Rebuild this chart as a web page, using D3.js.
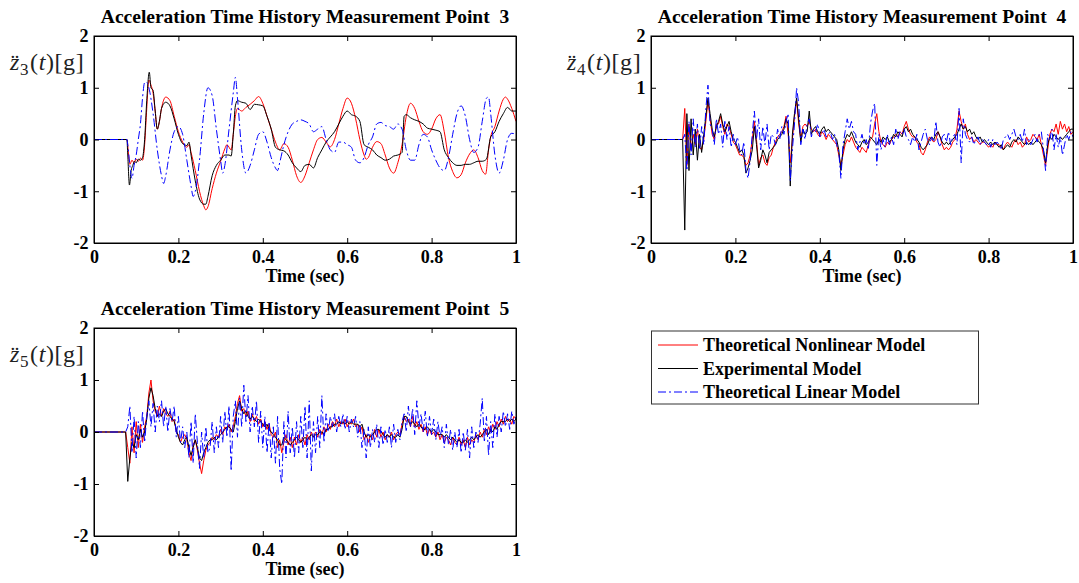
<!DOCTYPE html>
<html>
<head>
<meta charset="UTF-8">
<title>Acceleration Time History</title>
<script src="https://d3js.org/d3.v7.min.js"></script>
<style>
  body { margin: 0; background: #fff; }
  text { font-family: "Liberation Serif", "Times New Roman", serif; }
  .title { font-size: 19.5px; font-weight: bold; white-space: pre; }
  .xlabel { font-size: 18px; font-weight: bold; }
  .ylabel { font-size: 24px; fill: #222; letter-spacing: 0.6px; }
  .legend-text { font-size: 18px; font-weight: bold; }
</style>
</head>
<body>
<div id="chart"></div>
<script>
const width = 1079, height = 583;

const xTicks = [0, 0.2, 0.4, 0.6, 0.8, 1];
const xTickLabels = ["0", "0.2", "0.4", "0.6", "0.8", "1"];
const yTicks = [-2, -1, 0, 1, 2];
const yTickLabels = ["-2", "-1", "0", "1", "2"];
const seriesNames = ["Theoretical Nonlinear Model", "Experimental Model", "Theoretical Linear Model"];

// point 3 : [time, value] pairs
const point3Nonlinear = [[0,0],[0.078,0],[0.082,-0.3],[0.085,-0.48],[0.09,-0.4],[0.095,-0.45],[0.1,-0.38],[0.105,-0.42],[0.11,-0.36],[0.115,-0.4],[0.12,-0.1],[0.125,0.6],[0.13,1.15],[0.135,1.05],[0.14,0.9],[0.145,0.55],[0.15,0.2],[0.155,0.35],[0.16,0.6],[0.17,0.82],[0.18,0.75],[0.19,0.45],[0.2,0.15],[0.21,-0.05],[0.215,-0.12],[0.22,-0.15],[0.225,-0.1],[0.23,-0.25],[0.24,-0.6],[0.25,-1.0],[0.26,-1.28],[0.265,-1.36],[0.27,-1.3],[0.28,-0.95],[0.29,-0.65],[0.3,-0.42],[0.31,-0.18],[0.315,-0.1],[0.325,-0.2],[0.33,0.1],[0.335,0.45],[0.34,0.6],[0.35,0.55],[0.36,0.62],[0.37,0.68],[0.38,0.75],[0.39,0.83],[0.4,0.7],[0.41,0.45],[0.42,0.2],[0.43,-0.05],[0.44,-0.2],[0.45,-0.08],[0.46,-0.15],[0.47,-0.4],[0.48,-0.7],[0.49,-0.83],[0.5,-0.7],[0.51,-0.45],[0.52,-0.2],[0.53,0.0],[0.54,0.04],[0.55,-0.05],[0.56,-0.14],[0.57,0.0],[0.58,0.3],[0.59,0.6],[0.6,0.8],[0.61,0.7],[0.62,0.4],[0.63,0.0],[0.64,-0.3],[0.645,-0.38],[0.65,-0.35],[0.66,-0.15],[0.67,-0.04],[0.68,-0.08],[0.69,-0.3],[0.7,-0.55],[0.71,-0.65],[0.72,-0.45],[0.73,-0.1],[0.74,0.45],[0.75,0.7],[0.76,0.6],[0.77,0.35],[0.78,0.15],[0.79,0.1],[0.8,0.2],[0.81,0.4],[0.82,0.48],[0.83,0.15],[0.84,-0.35],[0.85,-0.62],[0.86,-0.74],[0.87,-0.68],[0.88,-0.45],[0.89,-0.28],[0.9,-0.2],[0.91,-0.35],[0.92,-0.6],[0.928,-0.67],[0.935,-0.2],[0.94,0.05],[0.95,0.25],[0.96,0.55],[0.97,0.78],[0.975,0.82],[0.98,0.78],[0.99,0.6],[1.0,0.35]];
const point3Experimental = [[0,0],[0.078,0],[0.08,-0.3],[0.084,-0.88],[0.088,-0.6],[0.092,-0.5],[0.096,-0.42],[0.1,-0.45],[0.105,-0.38],[0.11,-0.4],[0.115,-0.35],[0.12,0.0],[0.125,0.75],[0.131,1.3],[0.135,1.0],[0.14,0.95],[0.145,0.55],[0.15,0.2],[0.155,0.35],[0.16,0.6],[0.17,0.72],[0.18,0.65],[0.19,0.4],[0.2,0.1],[0.21,-0.08],[0.215,-0.1],[0.22,-0.12],[0.225,-0.05],[0.23,-0.3],[0.24,-0.8],[0.25,-1.15],[0.26,-1.25],[0.265,-1.25],[0.27,-1.1],[0.28,-0.7],[0.29,-0.5],[0.3,-0.4],[0.31,-0.3],[0.32,-0.3],[0.325,-0.32],[0.33,0.1],[0.335,0.65],[0.34,0.75],[0.35,0.72],[0.36,0.7],[0.37,0.58],[0.38,0.68],[0.39,0.67],[0.4,0.65],[0.41,0.45],[0.42,0.2],[0.43,-0.15],[0.44,-0.2],[0.45,-0.22],[0.46,-0.3],[0.47,-0.45],[0.48,-0.55],[0.49,-0.62],[0.5,-0.5],[0.51,-0.48],[0.52,-0.55],[0.53,-0.35],[0.54,-0.2],[0.55,-0.05],[0.56,0.05],[0.57,0.15],[0.58,0.3],[0.59,0.45],[0.6,0.55],[0.61,0.48],[0.62,0.45],[0.63,0.35],[0.64,-0.1],[0.65,-0.15],[0.66,-0.2],[0.67,-0.3],[0.68,-0.35],[0.69,-0.4],[0.7,-0.38],[0.71,-0.32],[0.72,-0.3],[0.73,-0.25],[0.735,0.45],[0.74,0.48],[0.75,0.42],[0.76,0.38],[0.77,0.35],[0.78,0.3],[0.79,0.22],[0.8,0.2],[0.81,0.18],[0.82,0.15],[0.83,-0.2],[0.84,-0.35],[0.85,-0.45],[0.86,-0.5],[0.87,-0.5],[0.88,-0.48],[0.89,-0.48],[0.9,-0.45],[0.91,-0.42],[0.92,-0.42],[0.93,-0.38],[0.94,0.05],[0.95,0.15],[0.96,0.35],[0.97,0.5],[0.98,0.62],[0.99,0.55],[1.0,0.55]];
const point3Linear = [[0,0],[0.078,0],[0.08,-0.1],[0.085,-0.5],[0.09,-0.75],[0.095,-0.5],[0.1,-0.3],[0.105,0.0],[0.11,0.3],[0.115,0.8],[0.12,1.1],[0.125,1.1],[0.13,1.0],[0.14,0.5],[0.15,-0.2],[0.16,-0.7],[0.165,-0.85],[0.17,-0.7],[0.18,-0.2],[0.19,0.15],[0.2,0.25],[0.21,0.1],[0.22,-0.4],[0.23,-0.9],[0.235,-1.1],[0.24,-1.0],[0.25,-0.4],[0.26,0.5],[0.27,1.0],[0.28,0.85],[0.29,0.2],[0.3,-0.4],[0.305,-0.65],[0.31,-0.5],[0.32,0.2],[0.33,0.9],[0.335,1.2],[0.34,0.8],[0.35,-0.2],[0.36,-0.65],[0.37,-0.5],[0.38,-0.2],[0.39,0.1],[0.4,0.15],[0.41,-0.05],[0.42,-0.35],[0.43,-0.55],[0.435,-0.6],[0.44,-0.45],[0.45,-0.1],[0.46,0.15],[0.47,0.3],[0.48,0.35],[0.49,0.38],[0.5,0.35],[0.51,0.3],[0.52,0.15],[0.53,0.2],[0.54,0.25],[0.55,0.0],[0.56,-0.2],[0.57,-0.25],[0.58,-0.05],[0.59,-0.05],[0.6,-0.1],[0.61,-0.15],[0.62,-0.4],[0.63,-0.45],[0.64,-0.35],[0.65,-0.1],[0.66,0.05],[0.67,0.3],[0.68,0.33],[0.69,0.27],[0.7,0.25],[0.71,0.2],[0.72,0.3],[0.73,0.2],[0.74,-0.2],[0.75,-0.4],[0.76,-0.4],[0.77,-0.1],[0.78,0.1],[0.79,0.05],[0.8,-0.2],[0.81,-0.4],[0.82,-0.55],[0.83,-0.6],[0.84,-0.35],[0.85,0.1],[0.86,0.5],[0.87,0.65],[0.88,0.45],[0.89,0.0],[0.9,-0.25],[0.91,-0.15],[0.92,0.35],[0.93,0.8],[0.935,0.82],[0.94,0.5],[0.95,-0.3],[0.96,-0.65],[0.97,-0.4],[0.98,0.0],[0.99,0.12],[1.0,0.1]];

// points 4 and 5 share one time base (sec)
const timeFine = [0,
  0.075,0.08,0.085,0.09,0.095,0.1,0.105,0.11,0.115,0.12,
  0.125,0.13,0.135,0.14,0.145,0.15,0.155,0.16,0.165,0.17,
  0.175,0.18,0.185,0.19,0.195,0.2,0.205,0.21,0.215,0.22,
  0.225,0.23,0.235,0.24,0.245,0.25,0.255,0.26,0.265,0.27,
  0.275,0.28,0.285,0.29,0.295,0.3,0.305,0.31,0.315,0.32,
  0.325,0.33,0.335,0.34,0.345,0.35,0.355,0.36,0.365,0.37,
  0.375,0.38,0.385,0.39,0.395,0.4,0.405,0.41,0.415,0.42,
  0.425,0.43,0.435,0.44,0.445,0.45,0.455,0.46,0.465,0.47,
  0.475,0.48,0.485,0.49,0.495,0.5,0.505,0.51,0.515,0.52,
  0.525,0.53,0.535,0.54,0.545,0.55,0.555,0.56,0.565,0.57,
  0.575,0.58,0.585,0.59,0.595,0.6,0.605,0.61,0.615,0.62,
  0.625,0.63,0.635,0.64,0.645,0.65,0.655,0.66,0.665,0.67,
  0.675,0.68,0.685,0.69,0.695,0.7,0.705,0.71,0.715,0.72,
  0.725,0.73,0.735,0.74,0.745,0.75,0.755,0.76,0.765,0.77,
  0.775,0.78,0.785,0.79,0.795,0.8,0.805,0.81,0.815,0.82,
  0.825,0.83,0.835,0.84,0.845,0.85,0.855,0.86,0.865,0.87,
  0.875,0.88,0.885,0.89,0.895,0.9,0.905,0.91,0.915,0.92,
  0.925,0.93,0.935,0.94,0.945,0.95,0.955,0.96,0.965,0.97,
  0.975,0.98,0.985,0.99,0.995,1.0];

const point4Nonlinear = [0,
  0,0.6,-0.5,0.3,-0.2,0.1,-0.1,0.2,-0.15,-0.2,
  0.0,0.35,0.75,0.4,0.1,0.0,0.3,0.3,0.45,0.25,
  0.1,0.3,0.25,0.1,-0.05,-0.1,-0.2,-0.3,-0.3,-0.35,
  -0.5,-0.45,-0.3,0.0,0.35,0.0,-0.5,-0.35,-0.3,-0.45,
  -0.5,-0.35,-0.3,-0.15,-0.05,0.05,0.1,0.15,0.25,0.45,
  0.1,-0.45,0.0,0.45,0.75,0.3,0.0,0.25,0.3,0.25,
  0.35,0.2,0.15,0.2,0.1,0.05,0.15,0.1,0.0,0.1,
  0.05,0.0,-0.05,-0.1,-0.3,-0.5,-0.3,-0.1,0.0,-0.05,
  0.05,-0.05,-0.15,-0.2,-0.25,-0.15,-0.2,-0.25,-0.1,0.0,
  0.05,0.3,0.5,0.15,-0.05,-0.1,-0.15,-0.05,-0.1,0.0,
  0.05,0.1,0.05,0.15,0.1,0.25,0.35,0.2,0.1,0.05,
  0.05,-0.05,-0.1,-0.25,-0.3,-0.2,-0.05,0.05,0.0,-0.05,
  0.0,0.15,0.05,-0.1,-0.2,-0.15,-0.2,-0.15,-0.05,0.0,
  0.2,0.55,0.35,0.2,0.3,0.1,0.0,0.05,-0.05,0.0,
  -0.05,-0.1,-0.05,-0.05,-0.1,-0.15,-0.1,-0.15,-0.05,-0.1,
  -0.1,-0.15,-0.2,-0.1,-0.05,-0.1,-0.15,-0.05,0.0,-0.1,
  -0.05,-0.15,-0.1,0.05,-0.05,0.0,0.1,0.05,0.0,0.1,
  -0.1,-0.3,-0.5,-0.2,0.1,0.2,0.15,0.3,0.1,0.35,
  0.2,0.3,0.15,0.25,0.1,0.15];
const point4Experimental = [0,
  0,-1.75,0.5,-0.6,0.4,-0.3,0.2,-0.4,0.1,-0.25,
  0.1,0.45,0.8,0.5,0.2,0.05,0.25,0.35,0.5,0.3,
  0.15,0.25,0.35,0.15,0.0,-0.05,-0.15,-0.25,-0.2,-0.3,
  -0.65,-0.55,-0.4,-0.2,0.25,-0.1,-0.55,-0.4,-0.2,-0.3,
  -0.45,-0.25,-0.2,-0.15,-0.1,0.0,0.05,0.1,0.2,0.4,
  0.3,-0.9,0.1,0.5,0.8,0.4,-0.05,0.2,0.1,0.15,
  0.55,0.1,0.2,0.25,0.15,0.1,0.2,0.25,0.15,0.2,
  0.15,0.1,0.05,0.0,-0.2,-0.6,-0.2,0.0,0.1,0.05,
  0.15,0.05,-0.05,-0.1,-0.15,-0.05,0.0,-0.1,-0.05,0.05,
  0.0,-0.05,-0.1,0.0,-0.05,0.05,0.0,0.05,-0.05,0.0,
  0.1,0.05,0.15,0.1,0.05,0.2,0.25,0.15,0.2,0.1,
  0.05,0.0,-0.05,-0.15,-0.2,-0.15,-0.1,0.0,0.05,0.0,
  0.1,0.15,0.05,-0.05,-0.1,-0.05,-0.1,-0.05,0.0,0.05,
  0.1,0.2,0.3,0.2,0.25,0.15,0.2,0.1,0.15,0.05,
  0.0,0.05,-0.05,0.0,-0.05,-0.1,-0.05,-0.1,-0.05,-0.1,
  -0.15,-0.1,-0.2,-0.15,-0.1,-0.15,-0.05,0.0,-0.05,0.05,
  0.0,-0.05,-0.1,-0.05,-0.1,-0.05,-0.1,-0.05,0.0,-0.05,
  -0.1,-0.2,-0.45,-0.1,0.05,0.0,0.1,0.05,0.0,0.05,
  0.0,0.05,0.1,0.15,0.2,0.2];
const point4Linear = [0,
  0,0.1,-0.6,0.35,-0.3,0.4,-0.15,0.3,-0.2,0.25,
  -0.1,0.6,1.05,0.3,0.2,-0.1,0.4,0.1,0.3,-0.15,
  0.35,0.0,0.25,-0.15,0.1,-0.1,0.05,-0.2,-0.3,-0.05,
  -0.6,-0.75,-0.4,0.1,0.55,0.0,0.4,-0.2,0.25,-0.1,
  0.3,-0.2,0.1,0.05,-0.1,0.2,0.0,0.25,0.1,0.35,
  0.5,-0.8,-0.2,0.3,1.0,0.7,-0.1,0.2,0.0,0.3,
  0.4,0.05,0.2,0.15,0.3,0.05,0.1,0.2,0.05,0.1,
  0.15,0.0,0.1,-0.1,-0.25,-0.75,-0.1,0.15,0.4,0.2,
  0.35,0.15,0.1,-0.2,-0.05,0.1,-0.1,0.0,-0.2,0.3,
  0.55,0.7,-0.5,0.1,-0.2,0.0,-0.15,0.1,-0.1,0.05,
  -0.1,0.2,0.0,0.15,0.1,0.2,0.05,0.0,-0.1,0.05,
  -0.05,0.1,-0.2,-0.05,0.1,0.2,0.0,-0.1,0.05,-0.05,
  0.35,-0.05,-0.15,0.05,0.1,-0.05,0.15,-0.1,0.05,0.1,
  -0.1,0.6,-0.45,0.4,0.1,0.0,-0.05,0.05,-0.1,0.0,
  0.05,-0.1,0.0,-0.05,-0.1,0.0,-0.15,0.0,-0.1,-0.05,
  -0.1,-0.2,0.0,0.05,0.1,0.0,0.1,0.2,0.05,0.0,
  0.1,-0.05,0.2,-0.1,0.0,-0.1,0.0,0.1,-0.05,0.1,
  0.15,-0.2,-0.6,0.1,0.0,0.2,-0.2,0.1,-0.15,0.05,
  -0.3,-0.1,0.1,0.0,0.15,0.05];

const point5Nonlinear = [0,
  0,-0.3,-0.6,0.1,-0.4,0.2,-0.3,0.15,-0.2,0.1,
  0.3,0.75,1.0,0.6,0.4,0.3,0.5,0.3,0.45,0.35,
  0.3,0.4,0.2,0.25,0.0,-0.05,-0.2,-0.1,-0.05,-0.15,
  -0.4,-0.55,-0.25,-0.15,-0.35,-0.6,-0.8,-0.55,-0.35,-0.25,
  -0.2,-0.1,-0.15,-0.05,-0.1,0.05,-0.05,0.1,0.05,0.15,
  0.0,0.1,0.3,0.55,0.7,0.4,0.45,0.3,0.4,0.2,
  0.35,0.2,0.3,0.15,0.25,0.1,0.2,0.05,0.15,-0.05,
  -0.1,0.0,-0.3,-0.15,-0.4,-0.2,-0.05,-0.25,-0.1,-0.3,
  -0.1,-0.25,-0.05,-0.2,-0.1,-0.25,-0.05,-0.15,0.0,-0.1,
  0.0,-0.1,0.05,-0.05,0.1,0.0,0.15,0.05,0.2,0.1,
  0.25,0.1,0.2,0.15,0.25,0.1,0.2,0.15,0.25,0.1,
  0.15,0.0,0.1,-0.15,-0.05,-0.2,-0.05,-0.15,0.05,-0.1,
  0.05,-0.1,0.0,-0.15,-0.05,-0.1,0.0,-0.15,-0.05,0.0,
  -0.05,0.15,0.3,0.2,0.25,0.1,0.3,0.1,0.2,0.05,
  0.15,0.0,0.1,-0.05,0.05,-0.05,0.0,-0.1,0.0,-0.15,
  -0.05,-0.2,-0.1,-0.15,-0.25,-0.1,-0.2,-0.25,-0.1,-0.25,
  -0.15,-0.3,-0.1,-0.25,-0.15,-0.2,-0.05,-0.15,0.0,-0.1,
  0.05,-0.05,0.1,0.0,0.15,0.05,0.2,0.1,0.25,0.15,
  0.3,0.2,0.25,0.15,0.3,0.25];
const point5Experimental = [0,
  0,-0.95,-0.5,-0.2,-0.3,-0.05,-0.15,0.05,-0.1,0.0,
  0.25,0.65,0.85,0.7,0.45,0.3,0.35,0.3,0.4,0.45,
  0.35,0.3,0.25,0.2,0.05,-0.1,-0.2,-0.25,-0.15,-0.1,
  -0.3,-0.45,-0.3,-0.15,-0.3,-0.5,-0.55,-0.4,-0.3,-0.2,
  -0.15,-0.15,-0.1,-0.15,-0.1,-0.05,0.0,0.05,0.1,0.1,
  0.05,0.0,0.2,0.45,0.6,0.45,0.35,0.4,0.3,0.25,
  0.3,0.25,0.2,0.25,0.2,0.15,0.1,0.15,0.05,0.0,
  -0.05,-0.1,-0.15,-0.25,-0.25,-0.1,-0.15,-0.2,-0.25,-0.2,
  -0.15,-0.1,-0.15,-0.2,-0.15,-0.1,-0.15,-0.1,-0.05,-0.1,
  -0.05,-0.05,0.0,0.0,-0.05,0.05,0.05,0.1,0.1,0.15,
  0.15,0.2,0.15,0.2,0.15,0.2,0.15,0.2,0.15,0.15,
  0.15,0.1,0.15,0.0,-0.1,-0.05,-0.1,-0.05,0.0,0.05,
  0.05,0.0,-0.05,-0.1,-0.05,-0.1,-0.05,-0.1,-0.1,-0.05,
  -0.1,0.05,0.3,0.3,0.2,0.15,0.2,0.15,0.1,0.15,
  0.1,0.05,0.05,0.1,0.05,0.0,0.05,0.0,-0.05,-0.05,
  -0.05,-0.1,-0.05,-0.1,-0.15,-0.1,-0.15,-0.2,-0.15,-0.2,
  -0.2,-0.15,-0.2,-0.15,-0.1,-0.15,-0.1,-0.05,-0.1,-0.05,
  0.0,0.05,-0.05,0.05,0.0,0.1,0.05,0.15,0.2,0.2,
  0.2,0.25,0.2,0.25,0.2,0.25];
const point5Linear = [0,
  0,0.1,0.5,-0.4,0.3,-0.5,0.2,-0.3,0.4,-0.2,
  0.3,0.6,0.1,0.55,0.0,0.5,0.2,0.6,0.1,0.5,
  0.0,0.45,0.2,0.5,-0.1,0.3,-0.2,0.1,-0.3,0.0,
  -0.5,0.2,-0.6,0.35,-0.2,-0.7,0.0,-0.5,0.1,-0.4,
  -0.3,0.2,-0.4,0.1,-0.3,0.3,-0.2,0.4,-0.1,0.5,
  -0.75,0.3,0.6,-0.1,0.65,0.1,0.9,0.2,0.7,0.0,
  0.5,0.1,0.6,-0.2,0.4,-0.3,0.3,-0.4,0.2,-0.5,
  0.1,-0.6,0.3,-0.7,-1.0,0.2,-0.5,0.4,-0.4,0.1,
  -0.5,0.2,-0.4,0.3,-0.3,0.5,-0.5,0.6,-0.75,0.2,
  -0.4,0.3,-0.3,0.7,-0.2,0.35,0.0,0.3,0.1,0.35,
  0.0,0.3,0.1,0.35,0.05,0.3,0.0,0.25,0.1,0.3,
  -0.1,0.2,-0.3,0.05,-0.5,0.1,-0.3,0.05,-0.2,0.15,
  -0.3,0.1,-0.25,0.05,-0.2,0.1,-0.3,0.15,-0.2,0.05,
  -0.15,0.2,0.35,0.0,0.5,0.1,0.45,-0.05,0.6,0.1,
  0.35,0.0,0.4,-0.1,0.3,-0.05,0.25,-0.15,0.2,-0.1,
  0.1,-0.3,0.15,-0.25,0.05,-0.35,0.0,-0.3,0.05,-0.4,
  0.0,-0.35,0.05,-0.5,0.1,-0.3,0.0,-0.2,0.15,0.65,
  -0.2,0.3,-0.45,0.2,-0.3,0.35,-0.1,0.3,0.0,0.4,
  0.1,0.35,0.05,0.4,0.15,0.3];

const colors = ["#ff0000", "#000000", "#0000ff"];
const dashes = [null, null, "8,3,2,3"];

const svg = d3.select("#chart").append("svg")
  .attr("width", width)
  .attr("height", height)
  .style("background", "#fff");

const fromPairs = arr => arr.map(p => ({ t: p[0], v: p[1] }));
const fromFine = vals => timeFine.map((t, i) => ({ t: t, v: vals[i] }));

const panels = [
  { point: "3", x0: 94, x1: 516, y0: 36, y1: 243, curve: d3.curveMonotoneX,
    series: [point3Nonlinear, point3Experimental, point3Linear].map(fromPairs) },
  { point: "4", x0: 651, x1: 1073, y0: 36, y1: 243, curve: d3.curveLinear,
    series: [point4Nonlinear, point4Experimental, point4Linear].map(fromFine) },
  { point: "5", x0: 94, x1: 516, y0: 328, y1: 536, curve: d3.curveLinear,
    series: [point5Nonlinear, point5Experimental, point5Linear].map(fromFine) }
];

panels.forEach((p, k) => {
  const x = d3.scaleLinear().domain([0, 1]).range([p.x0, p.x1]);
  const y = d3.scaleLinear().domain([-2, 2]).range([p.y1, p.y0]);
  const g = svg.append("g");

  g.append("clipPath").attr("id", "clip" + k)
    .append("rect").attr("x", p.x0).attr("y", p.y0)
    .attr("width", p.x1 - p.x0).attr("height", p.y1 - p.y0);

  const line = d3.line()
    .defined(d => d.v != null)
    .x(d => x(d.t))
    .y(d => y(d.v))
    .curve(p.curve);

  p.series.forEach((s, i) => {
    g.append("path")
      .datum(s)
      .attr("clip-path", "url(#clip" + k + ")")
      .attr("fill", "none")
      .attr("stroke", colors[i])
      .attr("stroke-width", 1)
      .attr("stroke-dasharray", dashes[i])
      .attr("d", line);
  });

  // box with inward ticks on all four sides
  const bottom = g.append("g").attr("transform", "translate(0," + p.y1 + ")")
    .call(d3.axisBottom(x).tickValues(xTicks).tickFormat((d, i) => xTickLabels[i])
      .tickSizeInner(-5).tickSizeOuter(0).tickPadding(7));
  const left = g.append("g").attr("transform", "translate(" + p.x0 + ",0)")
    .call(d3.axisLeft(y).tickValues(yTicks).tickFormat((d, i) => yTickLabels[i])
      .tickSizeInner(-5).tickSizeOuter(0).tickPadding(5.5));
  g.append("g").attr("transform", "translate(0," + p.y0 + ")")
    .call(d3.axisTop(x).tickValues(xTicks).tickFormat("").tickSizeInner(-5).tickSizeOuter(0));
  g.append("g").attr("transform", "translate(" + p.x1 + ",0)")
    .call(d3.axisRight(y).tickValues(yTicks).tickFormat("").tickSizeInner(-5).tickSizeOuter(0));

  [bottom, left].forEach(a => a
    .attr("font-family", "'Liberation Serif', 'Times New Roman', serif")
    .attr("font-size", 18)
    .attr("font-weight", "bold"));
  g.selectAll(".domain").attr("stroke", "#000");
  g.selectAll(".tick line").attr("stroke", "#000");

  g.append("rect")
    .attr("x", p.x0).attr("y", p.y0)
    .attr("width", p.x1 - p.x0).attr("height", p.y1 - p.y0)
    .attr("fill", "none").attr("stroke", "#000").attr("stroke-width", 1);

  const cx = (p.x0 + p.x1) / 2;
  g.append("text").attr("class", "title")
    .attr("x", cx).attr("y", p.y0 - 13)
    .attr("text-anchor", "middle")
    .text("Acceleration Time History Measurement Point  " + p.point);

  g.append("text").attr("class", "xlabel")
    .attr("x", cx).attr("y", p.y1 + 39)
    .attr("text-anchor", "middle")
    .text("Time (sec)");

  const yl = g.append("text").attr("class", "ylabel")
    .attr("x", p.x0 - 84).attr("y", p.y0 + 34);
  yl.append("tspan").attr("font-style", "italic").text("z\u0308");
  yl.append("tspan").attr("font-size", 17).attr("dy", 5).text(p.point);
  yl.append("tspan").attr("dy", -5).attr("dx", 1).text("(");
  yl.append("tspan").attr("font-style", "italic").text("t");
  yl.append("tspan").text(")[g]");
});

// legend
const lg = svg.append("g");
lg.append("rect")
  .attr("x", 651.5).attr("y", 331)
  .attr("width", 327).attr("height", 73)
  .attr("fill", "#fff").attr("stroke", "#333").attr("stroke-width", 1);

seriesNames.forEach((name, i) => {
  const cy = 345 + i * 23.5;
  lg.append("line")
    .attr("x1", 658).attr("x2", 698)
    .attr("y1", cy).attr("y2", cy)
    .attr("stroke", colors[i])
    .attr("stroke-width", 1)
    .attr("stroke-dasharray", dashes[i]);
  lg.append("text").attr("class", "legend-text")
    .attr("x", 703).attr("y", cy)
    .attr("dy", "0.35em")
    .text(name);
});
</script>
</body>
</html>
